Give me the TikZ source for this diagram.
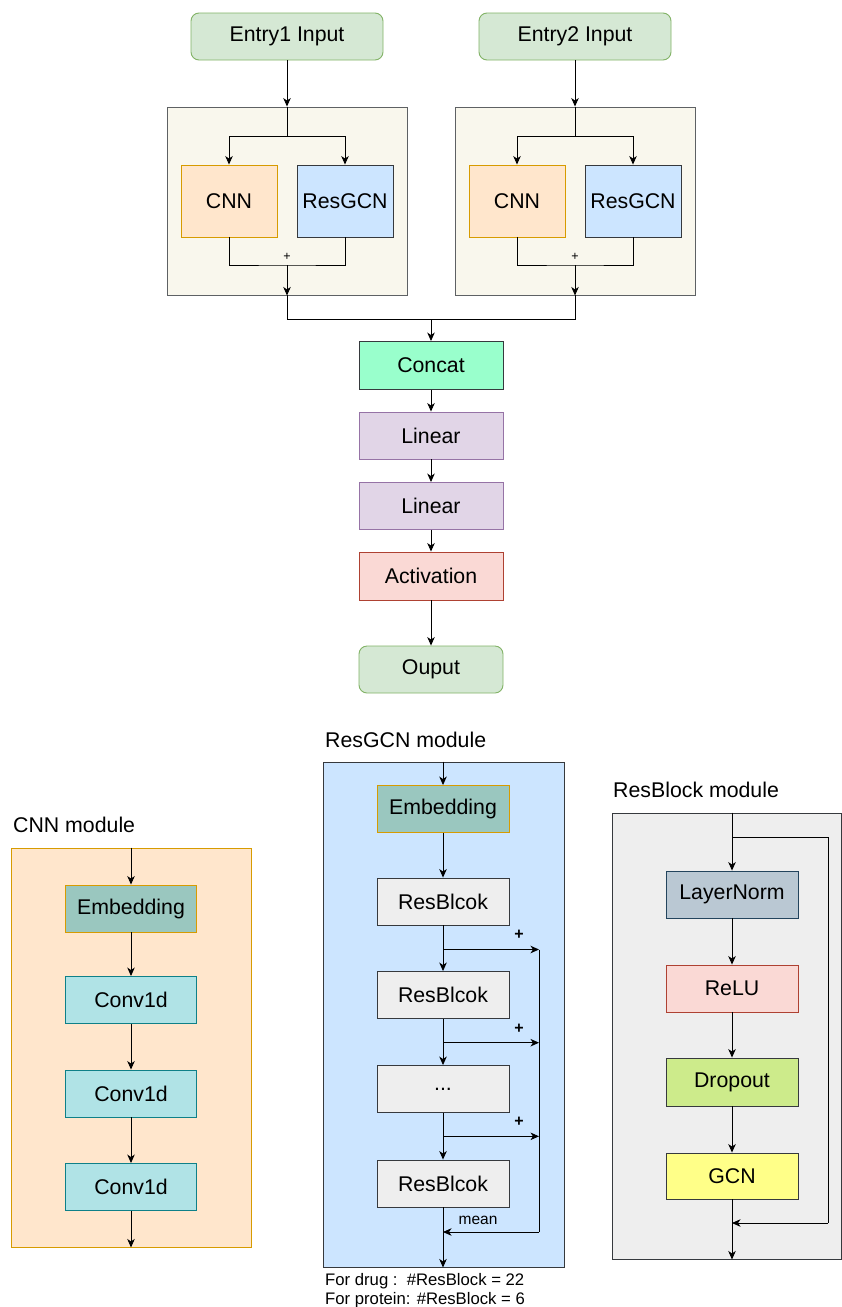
\documentclass[tikz,border=0pt]{standalone}
\usepackage{fontspec}
\setmainfont{Liberation Sans}
\usetikzlibrary{arrows.meta,calc}
\definecolor{grnF}{HTML}{D5E8D4}\definecolor{grnS}{HTML}{82B366}
\definecolor{begF}{HTML}{F9F7ED}\definecolor{drkS}{HTML}{36393D}
\definecolor{orgF}{HTML}{FFE6CC}\definecolor{orgS}{HTML}{D79B00}
\definecolor{bluF}{HTML}{CCE5FF}
\definecolor{mntF}{HTML}{99FFCC}
\definecolor{purF}{HTML}{E1D5E7}\definecolor{purS}{HTML}{9673A6}
\definecolor{redF}{HTML}{FAD9D5}\definecolor{redS}{HTML}{AE4132}
\definecolor{embF}{HTML}{9AC7BF}
\definecolor{cnvF}{HTML}{B0E3E6}\definecolor{cnvS}{HTML}{0E8088}
\definecolor{gryF}{HTML}{EEEEEE}
\definecolor{lnF}{HTML}{BAC8D3}\definecolor{lnS}{HTML}{23445D}
\definecolor{drpF}{HTML}{CDEB8B}
\definecolor{gcnF}{HTML}{FFFF88}
\newcommand\fmain{\fontsize{21.3}{25}\selectfont}
\begin{document}
\begin{tikzpicture}[x=1pt,y=-1pt,
  ln/.style={line width=0.9pt, draw=black},
  arr/.style={ln, -{Stealth[length=8.5pt,width=7.5pt,inset=2.5pt]}},
  blk/.style={draw, line width=0.9pt, inner sep=0pt, font=\fmain, text=black},
  sz/.style 2 args={minimum width=#1pt, minimum height=#2pt},
  ttl/.style={anchor=west, inner sep=0pt, font=\fmain},
  ent/.style={blk, fill=grnF, draw=grnS, rounded corners=8pt},
  cont/.style={blk, fill=begF, draw=drkS!80},
  cnnb/.style={blk, fill=orgF, draw=orgS},
  gcnb/.style={blk, fill=bluF, draw=drkS},
  mnt/.style={blk, fill=mntF, draw=drkS},
  lin/.style={blk, fill=purF, draw=purS},
  act/.style={blk, fill=redF, draw=redS},
  emb/.style={blk, fill=embF, draw=orgS},
  cnv/.style={blk, fill=cnvF, draw=cnvS},
  gry/.style={blk, fill=gryF, draw=drkS},
  lnb/.style={blk, fill=lnF, draw=lnS},
  drp/.style={blk, fill=drpF, draw=drkS},
  gcn/.style={blk, fill=gcnF, draw=drkS},
  plus/.style={inner sep=0pt, font=\fontsize{12.5}{13}\selectfont},
  bplus/.style={inner sep=0pt, font=\fontsize{16}{17}\selectfont\bfseries},
]
\useasboundingbox (0,0) rectangle (842,1307);
\fill[white] (0,0) rectangle (842,1307);

% ---------- top ----------
\node[ent, sz={192}{47}] (e1) at (287,36.5) {Entry1 Input};
\node[ent, sz={192}{47}] (e2) at (575,36.5) {Entry2 Input};
\node[cont, sz={240}{188}] (c1) at (287,201) {};
\node[cont, sz={240}{188}] (c2) at (575,201) {};
\node[cnnb, sz={96}{72}] (cnn1) at (229,201) {CNN};
\node[gcnb, sz={96}{72}] (gcn1) at (345,201) {ResGCN};
\node[cnnb, sz={96}{72}] (cnn2) at (517,201) {CNN};
\node[gcnb, sz={96}{72}] (gcn2) at (633,201) {ResGCN};
\coordinate (sp1) at (287,136);
\coordinate (sp2) at (575,136);
\coordinate (m1) at (287,265);
\coordinate (m2) at (575,265);
\draw[arr] (e1) -- (c1.north);
\draw[arr] (e2) -- (c2.north);
\draw[ln] (c1.north) -- (sp1);
\draw[ln] (c2.north) -- (sp2);
\draw[arr] (sp1) -| (cnn1.north);
\draw[arr] (sp1) -| (gcn1.north);
\draw[arr] (sp2) -| (cnn2.north);
\draw[arr] (sp2) -| (gcn2.north);
\draw[ln] (cnn1.south) |- (m1) -| (gcn1.south);
\draw[ln] (cnn2.south) |- (m2) -| (gcn2.south);
\node[plus] (p1) at (287,256.5) {+};
\node[plus] (p2) at (575,256.5) {+};
\draw[arr] (m1) -- (c1.south);
\draw[arr] (m2) -- (c2.south);

% ---------- main column ----------
\node[mnt, sz={144}{48}] (cat) at (431,365.5) {Concat};
\node[lin, sz={144}{47}] (l1) at (431,435.5) {Linear};
\node[lin, sz={144}{47}] (l2) at (431,506) {Linear};
\node[act, sz={144}{48}] (ac) at (431,576) {Activation};
\node[ent, sz={144}{47}] (out) at (431,669.5) {Ouput};
\coordinate (jn) at (431,319);
\draw[ln] (c1.south) |- (jn);
\draw[ln] (c2.south) |- (jn);
\draw[arr] (jn) -- (cat.north);
\draw[arr] (cat) -- (l1);
\draw[arr] (l1) -- (l2);
\draw[arr] (l2) -- (ac);
\draw[arr] (ac) -- (out);

% ---------- CNN module ----------
\node[ttl] (tc) at (13,825) {CNN module};
\node[blk, fill=orgF, draw=orgS, sz={240}{399}] (cm) at (131,1047.5) {};
\node[emb, sz={131}{47}] (ce) at (131,908.5) {Embedding};
\node[cnv, sz={131}{47}] (cv1) at (131,1000) {Conv1d};
\node[cnv, sz={131}{47}] (cv2) at (131,1093.5) {Conv1d};
\node[cnv, sz={131}{47}] (cv3) at (131,1187) {Conv1d};
\draw[arr] (cm.north) -- (ce);
\draw[arr] (ce) -- (cv1);
\draw[arr] (cv1) -- (cv2);
\draw[arr] (cv2) -- (cv3);
\draw[arr] (cv3) -- (cm.south);

% ---------- ResGCN module ----------
\node[ttl] (tg) at (325,740) {ResGCN module};
\node[blk, fill=bluF, draw=drkS, sz={241}{505}] (gm) at (443.5,1014.5) {};
\node[emb, sz={132}{47}] (ge) at (443,809) {Embedding};
\node[gry, sz={132}{47}] (rb1) at (443,901.5) {ResBlcok};
\node[gry, sz={132}{47}] (rb2) at (443,995) {ResBlcok};
\node[gry, sz={132}{47}] (rbd) at (443,1089) {...};
\node[gry, sz={132}{47}] (rb3) at (443,1183.5) {ResBlcok};
\draw[arr] (ge.north |- gm.north) -- (ge);
\draw[arr] (ge) -- (rb1);
\draw[arr] (rb1) -- (rb2);
\draw[arr] (rb2) -- (rbd);
\draw[arr] (rbd) -- (rb3);
\draw[arr] (rb3) -- (rb3.south |- gm.south);
\coordinate (b1) at (443,949.5);
\coordinate (b2) at (443,1042.7);
\coordinate (b3) at (443,1136.3);
\coordinate (r1) at (539,949.5);
\coordinate (r2) at (539,1042.7);
\coordinate (r3) at (539,1136.3);
\coordinate (rb) at (539,1232);
\coordinate (mc) at (443,1232);
\draw[arr] (b1) -- (r1);
\draw[arr] (b2) -- (r2);
\draw[arr] (b3) -- (r3);
\draw[ln] (r1) -- (rb);
\draw[arr] (rb) -- (mc);
\node[bplus] (q1) at (519,935) {+};
\node[bplus] (q2) at (519,1029) {+};
\node[bplus] (q3) at (519,1122) {+};
\node[inner sep=0pt, font=\fontsize{15.5}{16}\selectfont] (mn) at (478,1220.5) {mean};
\node[anchor=west, inner sep=0pt, font=\fontsize{16.7}{18}\selectfont] (n1) at (325,1281) {For drug :\ \ \#ResBlock = 22};
\node[anchor=west, inner sep=0pt, font=\fontsize{16.7}{18}\selectfont] (n2) at (325,1300) {For protein: \#ResBlock = 6};

% ---------- ResBlock module ----------
\node[ttl] (tb) at (613,790) {ResBlock module};
\node[blk, fill=gryF, draw=drkS, sz={229.5}{446}] (bm) at (726.75,1036) {};
\node[lnb, sz={132}{47}] (lnm) at (732,894.5) {LayerNorm};
\node[act, sz={132}{47}] (rl) at (732,988.5) {ReLU};
\node[drp, sz={132}{48}] (dp) at (732,1082) {Dropout};
\node[gcn, sz={132}{46}] (gc) at (732,1176) {GCN};
\coordinate (s0) at (732,837);
\coordinate (s1) at (828,837);
\coordinate (s2) at (828,1223);
\coordinate (s3) at (732,1223);
\draw[arr] (lnm.north |- bm.north) -- (lnm);
\draw[arr] (lnm) -- (rl);
\draw[arr] (rl) -- (dp);
\draw[arr] (dp) -- (gc);
\draw[arr] (gc) -- (gc.south |- bm.south);
\draw[ln] (s0) -- (s1) -- (s2);
\draw[arr] (s2) -- (s3);
\end{tikzpicture}
\end{document}
